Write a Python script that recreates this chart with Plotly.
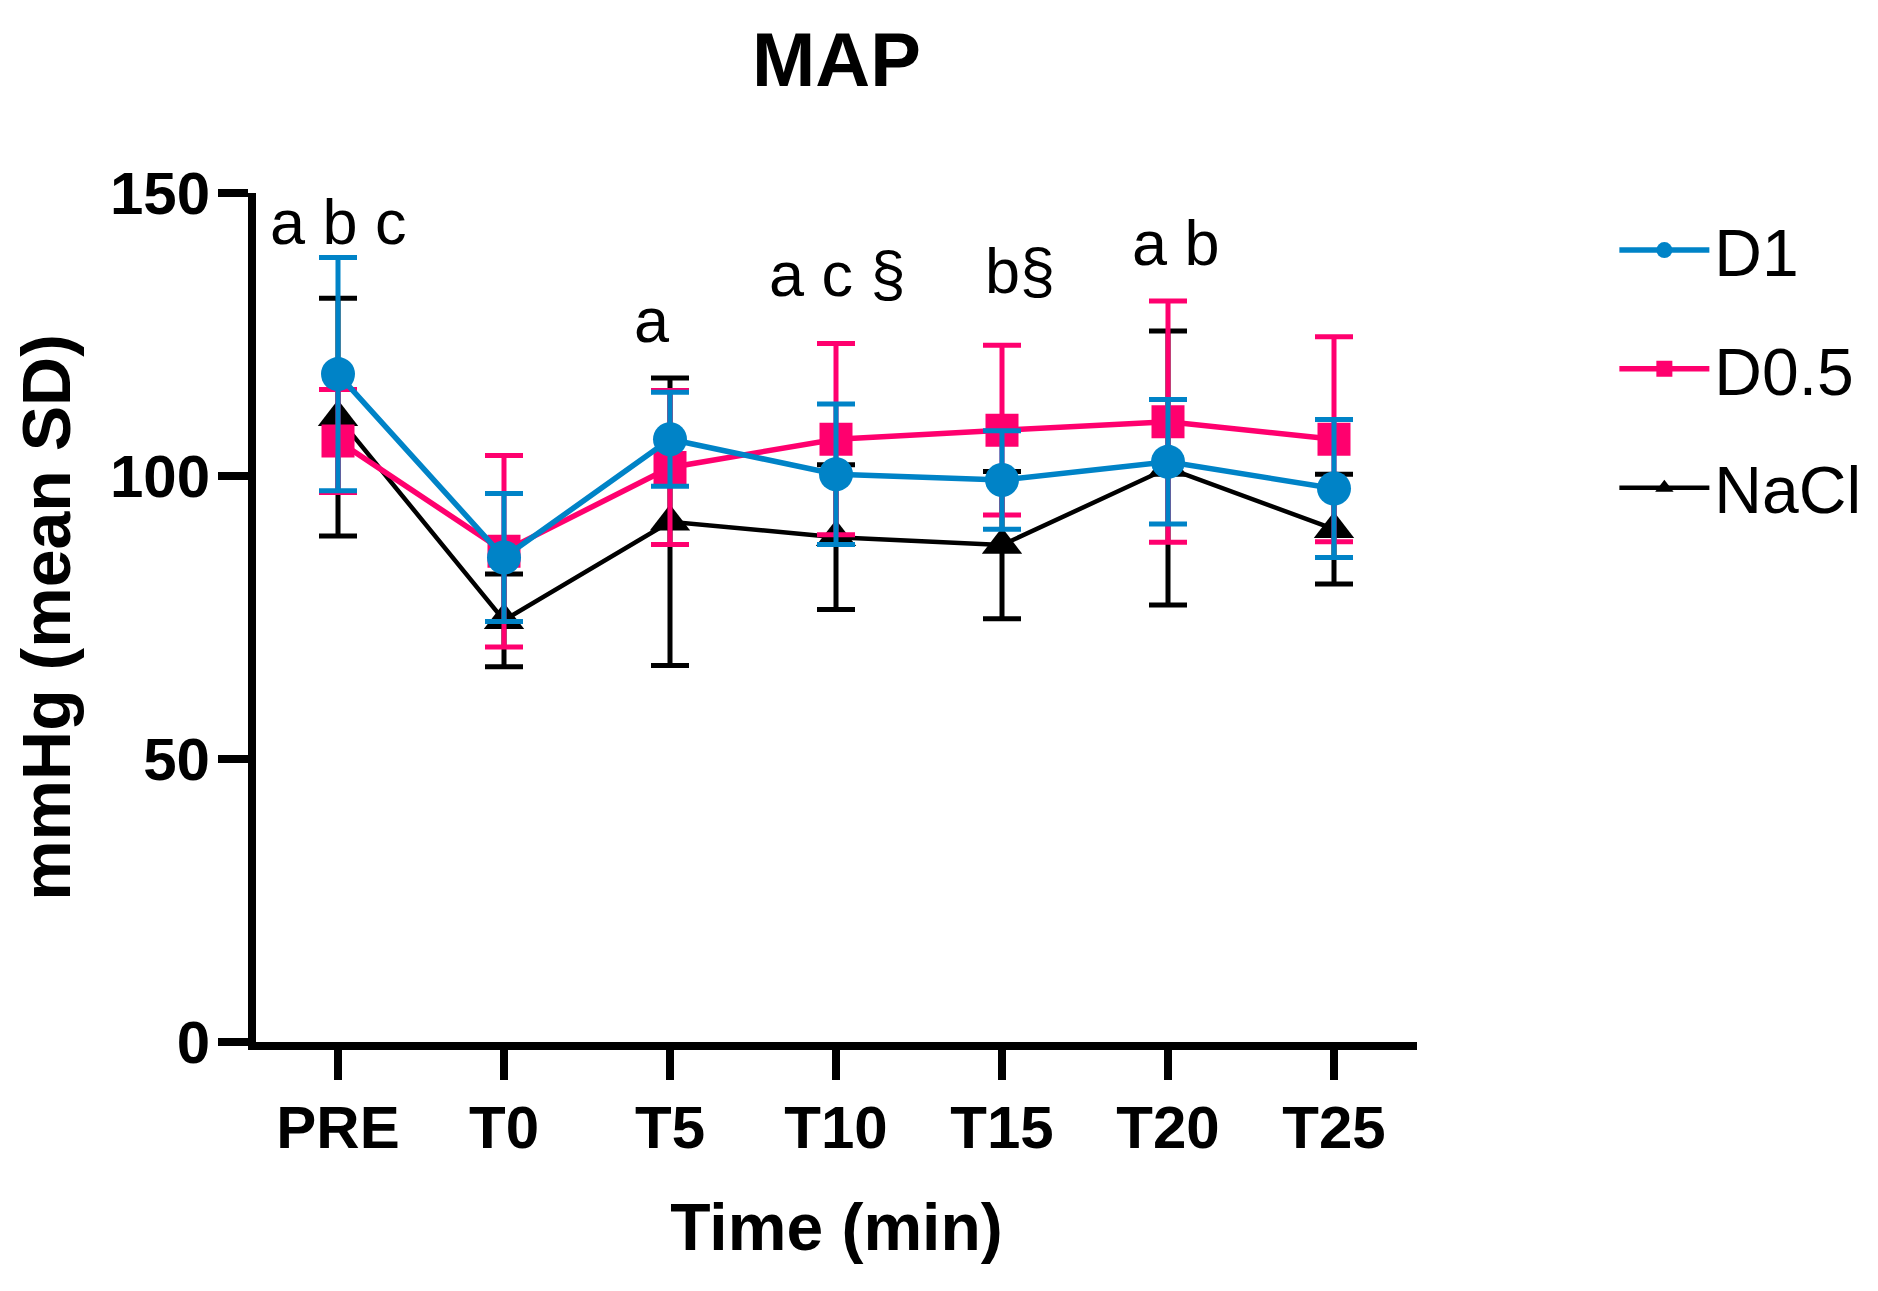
import plotly.graph_objects as go

# data (mean and SD, mmHg)
time_labels = ["PRE", "T0", "T5", "T10", "T15", "T20", "T25"]

d1_mean = [118.0, 85.6, 106.5, 100.3, 99.3, 102.5, 97.8]
d1_sd = [20.6, 11.3, 8.3, 12.4, 8.7, 11.0, 12.2]

d05_mean = [106.2, 86.7, 101.5, 106.5, 108.1, 109.6, 106.5]
d05_sd = [9.1, 16.9, 13.6, 16.9, 15.0, 21.3, 18.1]

nacl_mean = [110.4, 74.5, 91.9, 89.2, 87.8, 101.4, 90.6]
nacl_sd = [21.0, 8.2, 25.4, 12.8, 13.0, 24.2, 9.7]

# significance letters above the time points
sig_text = ["a b c", "a", "a c §", "b§", "a b"]
sig_x = [0, 1.89, 3.01, 4.11, 5.05]
sig_y = [144.9, 127.6, 135.7, 136.2, 141.2]

BLUE = "#0083C7"
PINK = "#FF006E"
BLACK = "#000000"
FONT = "Liberation Sans, Arial, sans-serif"

x = list(range(len(time_labels)))

fig = go.Figure()

# drawn NaCl first so D1 ends on top, like the original
series = [
    ("NaCl", nacl_mean, nacl_sd, BLACK, "triangle-up", 35, 4.5, 3),
    ("D0.5", d05_mean, d05_sd, PINK, "square", 33, 5.5, 2),
    ("D1", d1_mean, d1_sd, BLUE, "circle", 34, 5.5, 1),
]

for name, mean, sd, color, symbol, msize, lw, rank in series:
    fig.add_trace(go.Scatter(
        x=x, y=mean, name=name, legendgroup=name, legendrank=rank,
        mode="lines+markers",
        line=dict(color=color, width=lw),
        marker=dict(symbol=symbol, size=msize, color=color, line=dict(width=0)),
        error_y=dict(type="data", array=sd, visible=True,
                     color=color, thickness=5, width=19),
    ))

for txt, xx, yy in zip(sig_text, sig_x, sig_y):
    fig.add_annotation(x=xx, y=yy, text=txt, showarrow=False,
                       xanchor="center", yanchor="middle",
                       font=dict(family=FONT, size=63, color="black"))

fig.update_layout(
    width=1878, height=1291,
    margin=dict(l=248, r=469, t=185, b=257, autoexpand=False),
    plot_bgcolor="white", paper_bgcolor="white",
    font=dict(family=FONT, color="black"),
    title=dict(text="<b>MAP</b>", x=0.5, xref="paper", xanchor="center",
               y=0.960, yref="container", yanchor="middle",
               font=dict(family=FONT, size=76, color="black")),
    showlegend=True,
    legend=dict(x=1.17, xanchor="left", y=0.991, yanchor="top",
                traceorder="grouped", tracegroupgap=30,
                itemwidth=90, itemsizing="trace",
                font=dict(family=FONT, size=66, color="black"),
                bgcolor="rgba(0,0,0,0)"),
)

fig.update_xaxes(
    range=[-0.494, 6.5], tickmode="array", tickvals=x, ticktext=time_labels,
    showline=True, linecolor="black", linewidth=8, mirror=False,
    ticks="outside", ticklen=30, tickwidth=8, tickcolor="black",
    showgrid=False, zeroline=False, ticklabelstandoff=-4,
    tickfont=dict(family=FONT, size=60, color="black", weight="bold"),
    title=dict(text="<b>Time (min)</b>", standoff=47,
               font=dict(family=FONT, size=66, color="black")),
)

fig.update_yaxes(
    range=[0, 150], tickmode="array", tickvals=[0, 50, 100, 150],
    showline=True, linecolor="black", linewidth=8,
    ticks="outside", ticklen=30, tickwidth=8, tickcolor="black",
    showgrid=False, zeroline=False, ticklabelstandoff=-4,
    tickfont=dict(family=FONT, size=60, color="black", weight="bold"),
    title=dict(text="<b>mmHg (mean SD)</b>", standoff=34,
               font=dict(family=FONT, size=68, color="black")),
)

fig.write_html("out.html")
